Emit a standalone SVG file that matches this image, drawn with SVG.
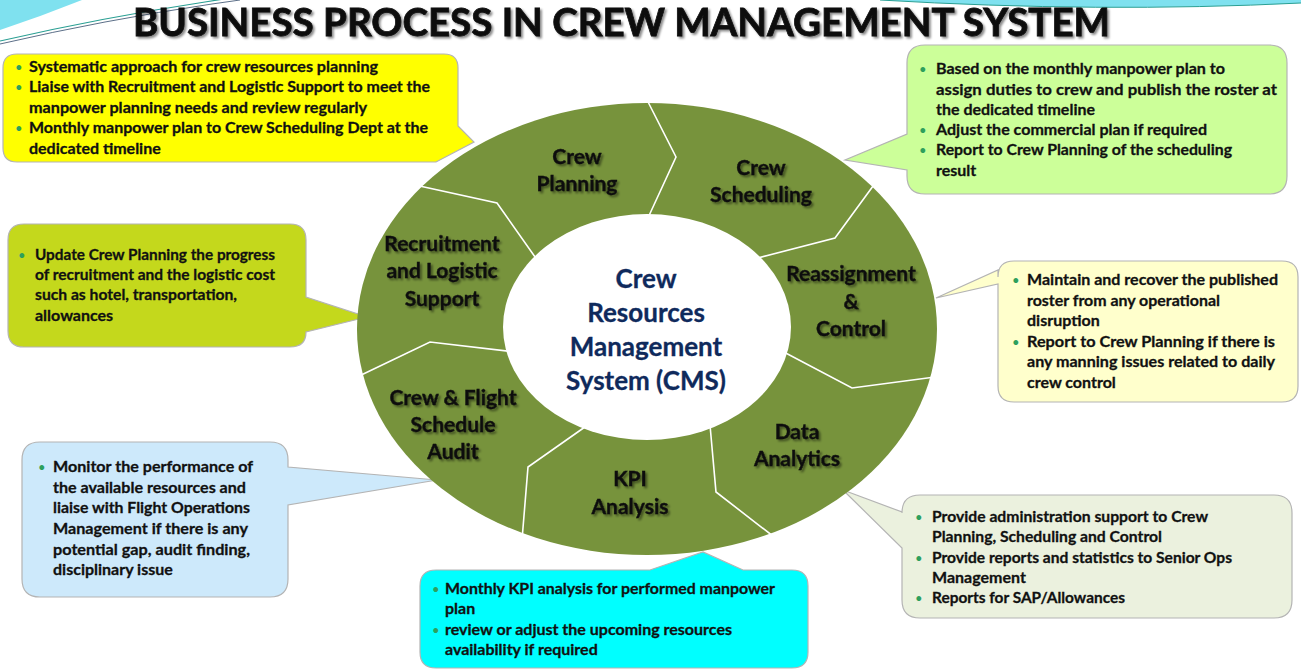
<svg xmlns="http://www.w3.org/2000/svg" width="1301" height="672" viewBox="0 0 1301 672">
  <defs>
    <filter id="shadow" x="-10%" y="-30%" width="120%" height="160%">
      <feDropShadow dx="2" dy="2" stdDeviation="1.2" flood-color="#000" flood-opacity="0.45"/>
    </filter>
  </defs>
  <style>
    .title { font-family: Lato, "Open Sans", sans-serif; font-weight: 700; font-size: 38px; fill: #0a0a0a; stroke: #0a0a0a; stroke-width: 0.8; }
    .body { font-family: Lato, "Liberation Sans", sans-serif; font-weight: 700; font-size: 16px; fill: #111; stroke: #111; stroke-width: 0.3; }
    .dot { font-family: Lato, "Liberation Sans", sans-serif; font-size: 13px; fill: #2ea05c; }
    .seg { font-family: Lato, "Liberation Sans", sans-serif; font-weight: 700; font-size: 21px; fill: #0d0d0d; stroke: #0d0d0d; stroke-width: 0.35; text-anchor: middle; }
    .core { font-family: Lato, "Liberation Sans", sans-serif; font-weight: 700; font-size: 26px; fill: #0f2a5c; stroke: #0f2a5c; stroke-width: 0.3; text-anchor: middle; }
    .box { stroke: #b4b4b4; stroke-width: 1.2; }
    .divider { fill: none; stroke: #ffffff; stroke-width: 1.6; stroke-linejoin: miter; }
  </style>

  <!-- corner decoration -->
  <g id="decor">
    <path d="M0,0 H82 Q42,16 0,30 Z" fill="#7fe1ef"/>
    <path d="M0,41 Q100,18 205,2 L230,-2" fill="none" stroke="#2a9f93" stroke-width="1.2"/>
    <path d="M0,44 Q104,20 212,4 L240,0" fill="none" stroke="#4a5f7a" stroke-width="0.9"/>
    <path d="M880,0 Q1100,13 1301,3 V0 Z" fill="#7fe1ef"/>
    <path d="M880,0 Q1100,13 1301,3" fill="none" stroke="#2a9f93" stroke-width="1"/>
  </g>

  <text class="title" x="621.5" y="36" text-anchor="middle" textLength="977" lengthAdjust="spacingAndGlyphs" filter="url(#shadow)">BUSINESS PROCESS IN CREW MANAGEMENT SYSTEM</text>

  <!-- callouts -->
  <g id="note-planning">
    <path class="box" fill="#ffff00" d="M17,54 H444 Q458,54 458,68 V126 L474,142 L436,162 H17 Q3,162 3,148 V68 Q3,54 17,54 Z"/>
    <text class="dot" x="15" y="72">•</text>
    <text class="dot" x="15" y="92">•</text>
    <text class="dot" x="15" y="133">•</text>
    <text class="body" x="29" y="72" textLength="349" lengthAdjust="spacingAndGlyphs">Systematic approach  for crew resources planning</text>
    <text class="body" x="29" y="92" textLength="401" lengthAdjust="spacingAndGlyphs">Liaise with Recruitment and Logistic Support to meet the</text>
    <text class="body" x="29" y="113" textLength="338" lengthAdjust="spacingAndGlyphs">manpower planning needs and review regularly</text>
    <text class="body" x="29" y="133" textLength="399" lengthAdjust="spacingAndGlyphs">Monthly manpower plan to Crew Scheduling Dept at the</text>
    <text class="body" x="29" y="154">dedicated timeline</text>
  </g>

  <g id="note-scheduling">
    <path class="box" fill="#ccff99" d="M925,45 H1269 Q1287,45 1287,63 V176 Q1287,194 1269,194 H925 Q907,194 907,176 V170 L845,160 L907,134 V63 Q907,45 925,45 Z"/>
    <text class="dot" x="919" y="74">•</text>
    <text class="dot" x="919" y="135">•</text>
    <text class="dot" x="919" y="155">•</text>
    <text class="body" x="936" y="74" textLength="289" lengthAdjust="spacingAndGlyphs">Based on the monthly manpower plan to</text>
    <text class="body" x="936" y="95" textLength="341" lengthAdjust="spacingAndGlyphs">assign duties to crew and publish the roster at</text>
    <text class="body" x="936" y="115" textLength="159" lengthAdjust="spacingAndGlyphs">the dedicated timeline</text>
    <text class="body" x="936" y="135" textLength="271" lengthAdjust="spacingAndGlyphs">Adjust the commercial plan if required</text>
    <text class="body" x="936" y="155" textLength="296" lengthAdjust="spacingAndGlyphs">Report to Crew Planning of the scheduling</text>
    <text class="body" x="936" y="176">result</text>
  </g>

  <g id="note-recruitment">
    <path class="box" fill="#c4d81c" d="M24,224 H290 Q306,224 306,240 V297 L367,317 L306,332 Q306,347 290,347 H24 Q8,347 8,331 V240 Q8,224 24,224 Z"/>
    <text class="dot" x="18" y="260">•</text>
    <text class="body" x="35" y="260" textLength="240" lengthAdjust="spacingAndGlyphs">Update Crew Planning the progress</text>
    <text class="body" x="35" y="280" textLength="240" lengthAdjust="spacingAndGlyphs">of recruitment and the logistic cost</text>
    <text class="body" x="35" y="300" textLength="202" lengthAdjust="spacingAndGlyphs">such as hotel, transportation,</text>
    <text class="body" x="35" y="321">allowances</text>
  </g>

  <g id="note-control">
    <path class="box" fill="#ffffcc" d="M1014,261 H1282 Q1298,261 1298,277 V386 Q1298,402 1282,402 H1014 Q998,402 998,386 V284 L936,298 L998,270 V277 Q998,261 1014,261 Z"/>
    <text class="dot" x="1012" y="285">•</text>
    <text class="dot" x="1012" y="347">•</text>
    <text class="body" x="1027" y="285" textLength="251" lengthAdjust="spacingAndGlyphs">Maintain and recover the published</text>
    <text class="body" x="1027" y="306" textLength="193" lengthAdjust="spacingAndGlyphs">roster from any operational</text>
    <text class="body" x="1027" y="326">disruption</text>
    <text class="body" x="1027" y="347" textLength="248" lengthAdjust="spacingAndGlyphs">Report to Crew Planning if there is</text>
    <text class="body" x="1027" y="367" textLength="248" lengthAdjust="spacingAndGlyphs">any manning issues related to daily</text>
    <text class="body" x="1027" y="388">crew control</text>
  </g>

  <g id="note-audit">
    <path class="box" fill="#cde9fb" d="M40,442 H270 Q288,442 288,460 V467 L437,480 L288,505 V579 Q288,597 270,597 H40 Q22,597 22,579 V460 Q22,442 40,442 Z"/>
    <text class="dot" x="38" y="472">•</text>
    <text class="body" x="53" y="472" textLength="200" lengthAdjust="spacingAndGlyphs">Monitor the performance of</text>
    <text class="body" x="53" y="493" textLength="193" lengthAdjust="spacingAndGlyphs">the available resources and</text>
    <text class="body" x="53" y="513" textLength="197" lengthAdjust="spacingAndGlyphs">liaise with Flight Operations</text>
    <text class="body" x="53" y="534" textLength="195" lengthAdjust="spacingAndGlyphs">Management if there is any</text>
    <text class="body" x="53" y="555" textLength="197" lengthAdjust="spacingAndGlyphs">potential gap, audit finding,</text>
    <text class="body" x="53" y="575">disciplinary issue</text>
  </g>

  <g id="note-analytics">
    <path class="box" fill="#ebf1de" d="M920,495 H1274 Q1292,495 1292,513 V600 Q1292,618 1274,618 H920 Q902,618 902,600 V548 L843,490 L902,512 V513 Q902,495 920,495 Z"/>
    <text class="dot" x="915" y="522">•</text>
    <text class="dot" x="915" y="563">•</text>
    <text class="dot" x="915" y="603">•</text>
    <text class="body" x="932" y="522" textLength="276" lengthAdjust="spacingAndGlyphs">Provide administration support to Crew</text>
    <text class="body" x="932" y="542" textLength="230" lengthAdjust="spacingAndGlyphs">Planning, Scheduling and Control</text>
    <text class="body" x="932" y="563" textLength="300" lengthAdjust="spacingAndGlyphs">Provide reports and statistics to Senior Ops</text>
    <text class="body" x="932" y="583">Management</text>
    <text class="body" x="932" y="603" textLength="193" lengthAdjust="spacingAndGlyphs">Reports for SAP/Allowances</text>
  </g>

  <g id="note-kpi">
    <path class="box" fill="#00ffff" d="M436,570 H650 L703,552 L743,570 H792 Q808,570 808,586 V652 Q808,668 792,668 H436 Q420,668 420,652 V586 Q420,570 436,570 Z"/>
    <text class="dot" x="432" y="594">•</text>
    <text class="dot" x="432" y="635">•</text>
    <text class="body" x="445" y="594" textLength="330" lengthAdjust="spacingAndGlyphs">Monthly KPI analysis for performed manpower</text>
    <text class="body" x="445" y="614">plan</text>
    <text class="body" x="445" y="635" textLength="287" lengthAdjust="spacingAndGlyphs">review or adjust the upcoming resources</text>
    <text class="body" x="445" y="655">availability if required</text>
  </g>

  <!-- process ring -->
  <g id="ring">
    <ellipse cx="647" cy="329" rx="290" ry="226" fill="#77933c"/>
  </g>

  <g id="connectors">
    <polyline class="divider" points="644,94 676,157 647,220"/>
    <polyline class="divider" points="876,182 835,238 750,260"/>
    <polyline class="divider" points="415,185 497,203 540,264"/>
    <polyline class="divider" points="935,377 852,388 780,350"/>
    <polyline class="divider" points="778,540 716,492 710,425"/>
    <polyline class="divider" points="522,540 528,467 592,422"/>
    <polyline class="divider" points="355,378 430,342 515,352"/>
  </g>

  <g id="core">
    <ellipse cx="647" cy="327" rx="144" ry="113" fill="#ffffff"/>
    <text class="core" x="646" y="288">Crew</text>
    <text class="core" x="646" y="322">Resources</text>
    <text class="core" x="646" y="356">Management</text>
    <text class="core" x="646" y="390">System (CMS)</text>
  </g>

  <g id="seg-planning" filter="url(#shadow)">
    <text class="seg" x="577" y="164">Crew</text>
    <text class="seg" x="577" y="191">Planning</text>
  </g>
  <g id="seg-scheduling" filter="url(#shadow)">
    <text class="seg" x="761" y="175">Crew</text>
    <text class="seg" x="761" y="202">Scheduling</text>
  </g>
  <g id="seg-recruitment" filter="url(#shadow)">
    <text class="seg" x="442" y="251">Recruitment</text>
    <text class="seg" x="442" y="278">and Logistic</text>
    <text class="seg" x="442" y="306">Support</text>
  </g>
  <g id="seg-reassignment" filter="url(#shadow)">
    <text class="seg" x="851" y="281">Reassignment</text>
    <text class="seg" x="851" y="309">&amp;</text>
    <text class="seg" x="851" y="336">Control</text>
  </g>
  <g id="seg-audit" filter="url(#shadow)">
    <text class="seg" x="453" y="405">Crew &amp; Flight</text>
    <text class="seg" x="453" y="432">Schedule</text>
    <text class="seg" x="453" y="459">Audit</text>
  </g>
  <g id="seg-kpi" filter="url(#shadow)">
    <text class="seg" x="630" y="486">KPI</text>
    <text class="seg" x="630" y="514">Analysis</text>
  </g>
  <g id="seg-analytics" filter="url(#shadow)">
    <text class="seg" x="797" y="439">Data</text>
    <text class="seg" x="797" y="466">Analytics</text>
  </g>
</svg>
